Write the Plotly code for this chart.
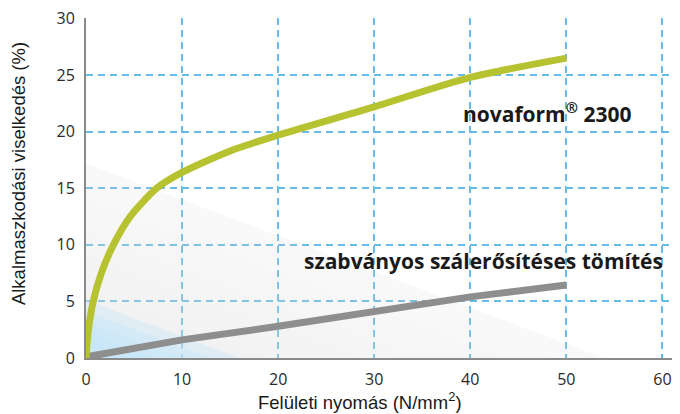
import plotly.graph_objects as go

# --- data ---
nova_x = [0, 0.25, 0.75, 1.6, 2.85, 4.6, 7.35, 10, 15, 20, 30, 40, 50]
nova_y = [0, 2.5, 5, 7.5, 10, 12.5, 15, 16.4, 18.3, 19.7, 22.2, 24.8, 26.5]
std_x = [0, 10, 20, 30, 40, 50]
std_y = [0.1, 1.6, 2.8, 4.1, 5.4, 6.45]

# background shading (gradient approximated by nested triangles)
gray_extent_x = [54, 49, 44, 39, 34, 29, 24, 19]
gray_extent_y = [17.2, 15.6, 14.0, 12.4, 10.8, 9.2, 7.6, 6.0]
blue_extent_x = [16, 13, 10, 7]
blue_extent_y = [5.1, 4.1, 3.2, 2.3]

x_ticks = [0, 10, 20, 30, 40, 50, 60]
y_ticks = [0, 5, 10, 15, 20, 25, 30]

label_nova = "novaform<sup>®</sup> 2300"
label_std = "szabványos szálerősítéses tömítés"
x_title = "Felületi nyomás (N/mm<sup>2</sup>)"
y_title = "Alkalmaszkodási viselkedés (%)"

fig = go.Figure()

for i, (ex, ey) in enumerate(zip(gray_extent_x, gray_extent_y)):
    alpha = 0.16 if i == 0 else 0.035
    fig.add_trace(go.Scatter(x=[0, 0, ex, 0], y=[0, ey, 0, 0], fill="toself",
                             fillcolor=f"rgba(215,215,215,{alpha})", mode="none",
                             hoverinfo="skip", showlegend=False))
for ex, ey in zip(blue_extent_x, blue_extent_y):
    fig.add_trace(go.Scatter(x=[0, 0, ex, 0], y=[0, ey, 0, 0], fill="toself",
                             fillcolor="rgba(195,230,250,0.38)", mode="none",
                             hoverinfo="skip", showlegend=False))

fig.add_trace(go.Scatter(x=std_x, y=std_y, mode="lines",
                         line=dict(color="#8e8e8e", width=7), showlegend=False))
fig.add_trace(go.Scatter(x=nova_x, y=nova_y, mode="lines",
                         line=dict(color="#b7c231", width=7, shape="spline", smoothing=0.7),
                         showlegend=False))

fig.add_annotation(x=39.0, y=21.7, xref="x", yref="y", text=label_nova,
                   showarrow=False, xanchor="left", yanchor="middle",
                   font=dict(family="Open Sans", size=21, color="#1a1a1a", weight="bold"))
fig.add_annotation(x=22.45, y=8.6, xref="x", yref="y", text=label_std,
                   showarrow=False, xanchor="left", yanchor="middle",
                   font=dict(family="Open Sans", size=21, color="#1a1a1a", weight="bold"))

fig.add_annotation(x=0.468, y=-0.126, xref="paper", yref="paper", text=x_title,
                   showarrow=False, xanchor="center", yanchor="middle",
                   font=dict(family="Liberation Sans, Arial", size=18.5, color="#1a1a1a"))
fig.add_annotation(x=-0.116, y=0.541, xref="paper", yref="paper", text=y_title,
                   showarrow=False, xanchor="center", yanchor="middle", textangle=-90,
                   font=dict(family="Liberation Sans, Arial", size=18.5, color="#1a1a1a"))

grid = dict(showgrid=True, gridcolor="#66bbe8", gridwidth=1.5, griddash="7px,5px",
            zeroline=False, showline=True, linecolor="#8a8a8a", linewidth=2,
            ticks="", tickfont=dict(family="Open Sans", size=16, color="#2a2a2a"))

fig.update_xaxes(range=[0, 61], tickvals=x_ticks, ticklabelstandoff=6, **grid)
fig.update_yaxes(range=[0, 30.05], tickvals=y_ticks, ticklabelstandoff=6, **grid)

fig.update_layout(width=680, height=414, margin=dict(l=86, r=8, t=18, b=56),
                  paper_bgcolor="white", plot_bgcolor="white")

fig.write_html("out.html", config={"displayModeBar": False},
               post_script="document.body.style.margin='0';document.body.style.overflow='hidden';")
